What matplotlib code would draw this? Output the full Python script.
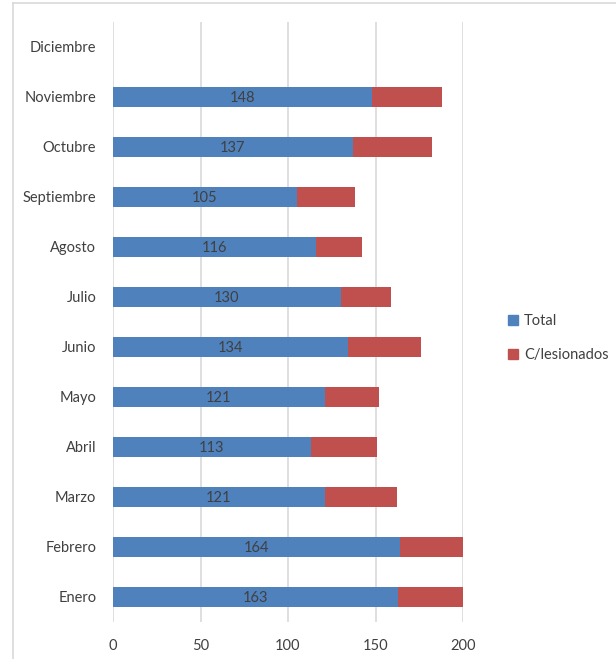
import matplotlib
matplotlib.use("Agg")
import matplotlib.pyplot as plt
from matplotlib.lines import Line2D
from matplotlib.patches import Patch

plt.rcParams["font.family"] = ["Lato", "DejaVu Sans"]

# ---- data -------------------------------------------------------------------
MONTHS = ["Enero", "Febrero", "Marzo", "Abril", "Mayo", "Junio", "Julio",
          "Agosto", "Septiembre", "Octubre", "Noviembre", "Diciembre"]
TOTAL = [163, 164, 121, 113, 121, 134, 130, 116, 105, 137, 148, 0]
LESIONADOS = [41, 40, 41, 38, 31, 42, 29, 26, 33, 45, 40, 0]
XTICKS = [0, 50, 100, 150, 200]

BLUE = "#4F81BD"
RED = "#C0504D"
TEXT = "#404040"
GRID = "#D9D9D9"

W, H = 616, 659
fig = plt.figure(figsize=(W / 100, H / 100), dpi=100)
fig.patch.set_facecolor("white")

# plot area in pixels: x 113..463, y 22..622
ax = fig.add_axes([113 / W, 1 - 622 / H, 350 / W, 600 / H])

ys = range(len(MONTHS))
ax.barh(ys, TOTAL, height=0.4, color=BLUE, lw=0, label="Total", zorder=3)
ax.barh(ys, LESIONADOS, left=TOTAL, height=0.4, color=RED, lw=0,
        label="C/lesionados", zorder=3)

for y, v in zip(ys, TOTAL):
    if v:
        ax.text(v / 2, y, str(v), ha="center", va="center_baseline", color=TEXT,
                fontsize=10.5, zorder=4)

ax.set_xlim(0, 200)
ax.set_ylim(-0.5, len(MONTHS) - 0.5)
ax.set_xticks(XTICKS)
ax.set_yticks(list(ys))
ax.set_yticklabels(MONTHS, va="center_baseline")
ax.tick_params(length=0, labelsize=10.5, labelcolor=TEXT)
ax.tick_params(axis="x", pad=12)
ax.tick_params(axis="y", pad=12)
ax.xaxis.grid(True, color=GRID, lw=1.2, zorder=0)
ax.set_axisbelow(True)
for s in ax.spines.values():
    s.set_visible(False)

# legend
handles = [Patch(color=BLUE, label="Total"), Patch(color=RED, label="C/lesionados")]
fig.legend(handles=handles, loc="center left", bbox_to_anchor=(495 / W, 1 - 338 / H),
           frameon=False, fontsize=10.5, labelcolor=TEXT, handlelength=0.7,
           handleheight=0.7, handletextpad=0.4, labelspacing=1.4)

# chart-area border (left + top visible)
fig.add_artist(Line2D([13 / W, 13 / W], [0, 1 - 3 / H], color=GRID, lw=1.2))
fig.add_artist(Line2D([13 / W, 1], [1 - 3 / H, 1 - 3 / H], color=GRID, lw=1.2))

fig.savefig("out.png", dpi=100, facecolor="white")
